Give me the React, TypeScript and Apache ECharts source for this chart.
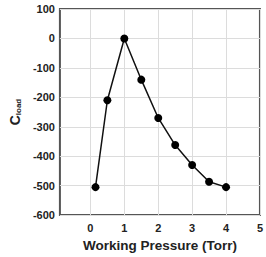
import React, { useEffect, useRef } from "react";
import * as echarts from "echarts";

const pressure = [0.15, 0.5, 1, 1.5, 2, 2.5, 3, 3.5, 4];
const cload = [-505, -210, 0, -140, -270, -362, -430, -487, -505];
const xTicks = [0, 1, 2, 3, 4, 5];

export default function App() {
  const ref = useRef<HTMLDivElement>(null);
  useEffect(() => {
    const chart = echarts.init(ref.current!, null, { renderer: "svg" });
    const font = "'Liberation Sans', Arial, sans-serif";
    chart.setOption({
      animation: false,
      backgroundColor: "#fff",
      grid: {
        left: 50,
        right: 5,
        top: 9,
        bottom: 36,
        show: true,
        borderColor: "#555",
        borderWidth: 2,
        backgroundColor: "transparent",
      },
      xAxis: {
        type: "value",
        min: -0.9,
        max: 5,
        axisLine: { show: false },
        axisTick: { show: false, customValues: xTicks },
        axisLabel: {
          customValues: xTicks,
          color: "#222",
          fontWeight: "bold",
          fontSize: 11,
          fontFamily: font,
          margin: 7,
        },
        splitLine: { show: true, lineStyle: { color: "#dcdcdc", width: 1 } },
        name: "Working Pressure (Torr)",
        nameLocation: "middle",
        nameGap: 22,
        nameTextStyle: {
          color: "#222",
          fontWeight: "bold",
          fontSize: 13.5,
          fontFamily: font,
        },
      },
      yAxis: {
        type: "value",
        min: -600,
        max: 100,
        interval: 100,
        axisLine: { show: false },
        axisTick: { show: false },
        axisLabel: {
          color: "#222",
          fontWeight: "bold",
          fontSize: 11,
          fontFamily: font,
          margin: 5,
        },
        splitLine: { show: true, lineStyle: { color: "#dcdcdc", width: 1 } },
        name: "{c|C}{s|load}",
        nameLocation: "middle",
        nameRotate: 90,
        nameGap: 34,
        nameTextStyle: {
          rich: {
            c: {
              color: "#222",
              fontWeight: "bold",
              fontSize: 14,
              fontFamily: font,
            },
            s: {
              color: "#222",
              fontWeight: "bold",
              fontSize: 8,
              fontFamily: font,
              verticalAlign: "bottom",
              padding: [6, 0, 0, 0],
            },
          },
        },
      },
      series: [
        {
          type: "line",
          data: pressure.map((p, i) => [p, cload[i]]),
          symbol: "circle",
          symbolSize: 8,
          itemStyle: { color: "#000" },
          lineStyle: { color: "#111", width: 1.5 },
        },
      ],
    });
    return () => chart.dispose();
  }, []);
  return <div ref={ref} style={{ width: 266, height: 257, position: "absolute", left: 0, top: 0 }} />;
}
